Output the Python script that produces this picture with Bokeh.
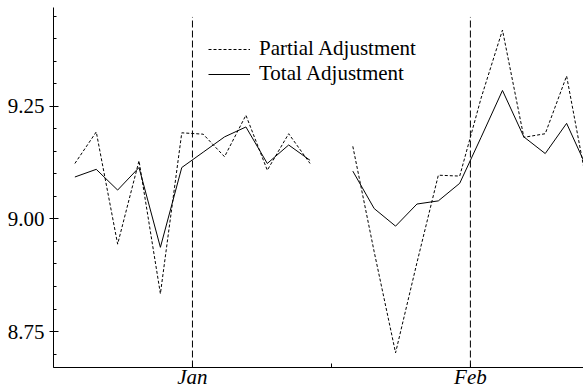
from bokeh.plotting import figure
from bokeh.models import ColumnDataSource, FixedTicker, Legend, LegendItem
from bokeh.embed import file_html
from bokeh.resources import INLINE

# ---- data ----
period = list(range(25))
nan = float("nan")
partial = [9.123, 9.193, 8.944, 9.129, 8.834, 9.191, 9.188, 9.138, 9.230, 9.108, 9.189, 9.123, nan,
           9.161, 8.927, 8.703, 8.903, 9.097, 9.095, 9.268, 9.419, 9.181, 9.189, 9.317, 9.064]
total = [9.093, 9.110, 9.064, 9.114, 8.937, 9.114, 9.148, 9.182, 9.204, 9.123, 9.164, 9.130, nan,
         9.106, 9.023, 8.984, 9.033, 9.040, 9.079, 9.181, 9.285, 9.182, 9.145, 9.212, 9.108]
month_labels = ["Jan", "Feb"]
month_pos = [5.5, 18.5]
half_month_ticks = [-1, 12, 25]
y_major = [8.75, 9.00, 9.25]
y_labels = ["8.75", "9.00", "9.25"]
y_minor = [round(8.70 + 0.05 * i, 2) for i in range(16)]
marker_top = 9.448

y_lo, y_hi = 8.6704, 9.469

SERIF = "Liberation Serif"
FS = "21px"

p = figure(width=583, height=391, x_range=(-1, 23.79), y_range=(y_lo, y_hi),
           output_backend="svg", toolbar_location=None,
           min_border_top=7, min_border_right=0, min_border_left=53, min_border_bottom=22)
p.outline_line_color = None
p.xgrid.visible = False
p.ygrid.visible = False
p.background_fill_color = "white"
p.border_fill_color = "white"

# vertical month markers
p.segment(x0=month_pos, x1=month_pos, y0=[y_lo] * len(month_pos), y1=[marker_top] * len(month_pos),
          line_color="black", line_width=1, line_dash="7 3")

src = ColumnDataSource(dict(x=period, partial=partial, total=total))
r_partial = p.line("x", "partial", source=src, line_color="black", line_width=1, line_dash="3 2")
r_total = p.line("x", "total", source=src, line_color="black", line_width=1)

legend = Legend(items=[LegendItem(label="Partial Adjustment", renderers=[r_partial]),
                       LegendItem(label="Total Adjustment", renderers=[r_total])],
                location=(155, 281))
legend.label_text_font = SERIF
legend.label_text_font_size = FS
legend.label_text_color = "black"
legend.label_height = 20
legend.glyph_height = 20
legend.glyph_width = 42
legend.label_standoff = 9
legend.spacing = -5
legend.padding = 0
legend.margin = 0
legend.border_line_color = None
legend.background_fill_alpha = 0
p.add_layout(legend, "center")

# y axis
ya = p.yaxis[0]
ya.ticker = FixedTicker(ticks=y_major, minor_ticks=y_minor)
ya.major_label_overrides = {v: s for v, s in zip(y_major, y_labels)}
ya.major_label_text_font = SERIF
ya.major_label_text_font_size = FS
ya.major_label_text_color = "black"
ya.major_label_standoff = 5
ya.major_tick_out = 4
ya.major_tick_in = 5
ya.minor_tick_out = 0
ya.minor_tick_in = 3
ya.axis_line_color = "black"
ya.major_tick_line_color = "black"
ya.minor_tick_line_color = "black"

# x axis
xa = p.xaxis[0]
xa.ticker = FixedTicker(ticks=month_pos, minor_ticks=half_month_ticks)
xa.major_label_overrides = {v: s for v, s in zip(month_pos, month_labels)}
xa.major_label_text_font = SERIF
xa.major_label_text_font_style = "italic"
xa.major_label_text_font_size = FS
xa.major_label_text_color = "black"
xa.major_label_standoff = -3
xa.major_tick_out = 0
xa.major_tick_in = 4
xa.minor_tick_out = 0
xa.minor_tick_in = 4
xa.axis_line_color = "black"
xa.major_tick_line_color = "black"
xa.minor_tick_line_color = "black"

open("out.html", "w").write(file_html(p, INLINE))
